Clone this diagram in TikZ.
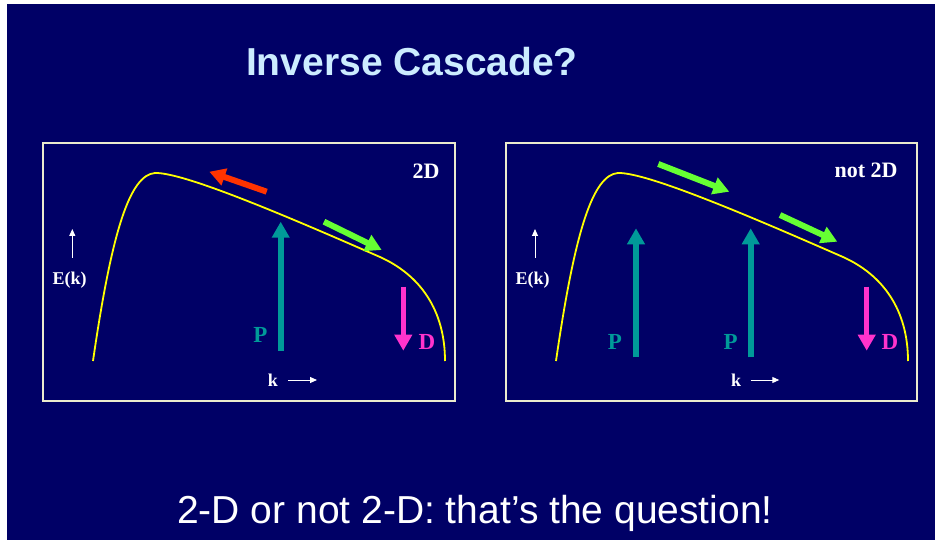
\documentclass[tikz,border=0pt]{standalone}
\usepackage{fontspec}
\setmainfont{Liberation Serif}
\setsansfont{Liberation Sans}
\usetikzlibrary{arrows.meta}
\definecolor{slidebg}{RGB}{0,0,102}
\definecolor{titleblue}{RGB}{204,236,255}
\definecolor{boxline}{RGB}{235,235,205}
\definecolor{curveyellow}{RGB}{255,255,0}
\definecolor{ptal}{RGB}{0,153,153}
\definecolor{dmag}{RGB}{255,51,204}
\definecolor{invred}{RGB}{255,51,0}
\definecolor{fwdgreen}{RGB}{102,255,51}
\tikzset{
  panelbox/.style={draw=boxline, line width=1.2pt},
  spectrum/.style={draw=curveyellow, line width=1.8pt},
  fatarrow/.style={-{Triangle[length=16pt,width=17pt]}, line width=6pt},
  axisarrow/.style={-{Triangle[length=7pt,width=6pt]}, line width=1pt, color=white},
  lbl/.style={font=\bfseries\fontsize{23}{25}\selectfont, inner sep=0pt},
  axlbl/.style={font=\bfseries\fontsize{18}{20}\selectfont, inner sep=0pt, text=white},
  tag/.style={font=\bfseries\fontsize{22}{24}\selectfont, inner sep=0pt, text=white}
}

\begin{document}
\begin{tikzpicture}[x=1pt, y=-1pt]
\useasboundingbox (0,0) rectangle (935,540);
\fill[white] (0,0) rectangle (935,540);
\fill[slidebg] (7,4) rectangle (935,540);

% Title
\node[font=\sffamily\bfseries\fontsize{39}{44}\selectfont, text=titleblue, anchor=base] (title) at (412,76) {Inverse Cascade?};

% 2D panel
\draw[panelbox] (43,143) rectangle (455,401);
\draw[spectrum] (93,361) .. controls (112,230) and (130,175) .. (155,173)
  .. controls (185,172) and (300,222) .. (380,257)
  .. controls (420,275) and (445,310) .. (445,361);
\node[tag] (tagL) at (426,171) {2D};
\draw[fatarrow, invred] (266.7,191.7) -- (209.3,171.7);
\draw[fatarrow, fwdgreen] (324,221.7) -- (381.7,250);
\draw[fatarrow, ptal] (280.7,350.7) -- (280.7,221.7);
\node[lbl, text=ptal] (PL) at (260.5,334.5) {P};
\draw[fatarrow, dmag, line width=5.5pt] (403.3,286.7) -- (403.3,350.7);
\node[lbl, text=dmag] (DL) at (427,342) {D};
\draw[axisarrow] (72.3,257.7) -- (72.3,229);
\node[axlbl] (EL) at (69.7,280) {E(k)};
\node[axlbl] (kL) at (273,380) {k};
\draw[axisarrow] (288,380) -- (317,380);

% not 2D panel
\draw[panelbox] (506,143) rectangle (917,401);
\draw[spectrum, xshift=463] (93,361) .. controls (112,230) and (130,175) .. (155,173)
  .. controls (185,172) and (300,222) .. (380,257)
  .. controls (420,275) and (445,310) .. (445,361);
\node[tag] (tagR) at (866,170) {not 2D};
\draw[fatarrow, fwdgreen] (658.3,164) -- (729.3,191.7);
\draw[fatarrow, fwdgreen] (780,215) -- (837.3,241.7);
\draw[fatarrow, ptal] (636,357.3) -- (636,228.3);
\node[lbl, text=ptal] (PR1) at (615,341.7) {P};
\draw[fatarrow, ptal] (750.7,357.3) -- (750.7,228.3);
\node[lbl, text=ptal] (PR2) at (730.7,341.7) {P};
\draw[fatarrow, dmag, line width=5.5pt] (866.7,286.7) -- (866.7,350.7);
\node[lbl, text=dmag] (DR) at (890,341.7) {D};
\draw[axisarrow] (535,257.7) -- (535,229);
\node[axlbl] (ER) at (532.7,280) {E(k)};
\node[axlbl] (kR) at (736,380) {k};
\draw[axisarrow] (750.7,380) -- (779.3,380);

% Question
\node[font=\sffamily\fontsize{39}{44}\selectfont, text=white, anchor=base] (question) at (475,523) {2-D or not 2-D: that’s the question!};
\end{tikzpicture}
\end{document}
